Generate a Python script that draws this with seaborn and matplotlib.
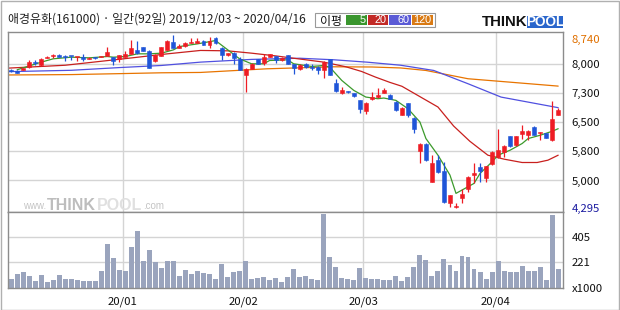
import numpy as np
import pandas as pd
import matplotlib
matplotlib.use("Agg")
import matplotlib.pyplot as plt
from matplotlib.patches import Rectangle
import seaborn as sns

sns.set_theme(style="white")
plt.rcParams['font.family'] = ['Noto Sans CJK KR', 'DejaVu Sans']

# ---------------- data ----------------
opens = [7830, 7820, 7843, 7911, 8030, 7954, 8150, 8195, 8227, 8190,
         8200, 8160, 8184, 8116, 8155, 8180, 8201, 8167, 8133, 8184,
         8253, 8355, 8423, 8321, 8065, 8210, 8355, 8568, 8406, 8457,
         8526, 8543, 8594, 8483, 8662, 8406, 8218, 8270, 8125, 7715,
         7869, 8116, 8014, 8167, 8201, 8082, 8218, 7980, 7869, 7997,
         7900, 7925, 7843, 8116, 7510, 7246, 7275, 7246, 7075, 6776,
         7101, 7143, 7254, 7203, 7015, 6691, 6990, 6606, 5761, 5949,
         4967, 5522, 5240, 4413, 4320, 4541, 4780, 5138, 5351, 5070,
         5411, 5607, 5735, 6137, 5906, 6196, 6179, 6375, 6215, 6213,
         6034, 6690]
highs = [7860, 7830, 7900, 8100, 8085, 8140, 8200, 8250, 8240, 8230,
         8210, 8180, 8236, 8160, 8170, 8200, 8440, 8180, 8230, 8321,
         8620, 8577, 8440, 8340, 8240, 8440, 8610, 8740, 8500, 8560,
         8662, 8662, 8600, 8696, 8680, 8420, 8280, 8290, 8167, 7886,
         8010, 8130, 8236, 8250, 8210, 8160, 8230, 7990, 7990, 8010,
         7997, 7940, 8065, 8125, 7600, 7400, 7290, 7250, 7080, 7010,
         7271, 7380, 7382, 7220, 7030, 6880, 7000, 6620, 5970, 5960,
         5650, 5650, 5480, 4640, 4413, 4770, 5110, 5437, 5462, 5380,
         5750, 6333, 5900, 6150, 6150, 6435, 6290, 6390, 6250, 6220,
         7041, 6870]
lows = [7790, 7760, 7830, 7900, 7960, 7940, 8140, 8150, 8160, 8070,
        8100, 8080, 8080, 8110, 8130, 8170, 8190, 7971, 8039, 8170,
        8240, 8260, 8330, 7880, 8050, 8200, 8340, 8400, 8400, 8440,
        8520, 8530, 8470, 8406, 8510, 8082, 8210, 7997, 7826, 7271,
        7860, 7990, 7971, 8160, 8014, 8070, 7990, 7741, 7826, 7900,
        7850, 7724, 7638, 7700, 7280, 7230, 7250, 7150, 6733, 6716,
        7080, 7130, 7240, 7090, 6780, 6670, 6631, 6230, 5437, 5510,
        4950, 5200, 4420, 4328, 4295, 4413, 4712, 4925, 4967, 4967,
        5400, 5565, 5607, 5870, 5890, 6077, 6051, 6160, 6034, 6090,
        6009, 6680]
closes = [7810, 7770, 7894, 8039, 8020, 8125, 8184, 8205, 8167, 8180,
          8190, 8175, 8116, 8150, 8145, 8190, 8304, 8065, 8218, 8236,
          8398, 8270, 8338, 7894, 8227, 8423, 8594, 8406, 8466, 8526,
          8568, 8577, 8483, 8594, 8526, 8227, 8270, 8150, 7843, 7869,
          7997, 7997, 8184, 8236, 8099, 8150, 7997, 7886, 7971, 7911,
          7890, 7843, 8031, 7715, 7297, 7331, 7265, 7160, 6845, 6998,
          7143, 7203, 7314, 7101, 6802, 6862, 6691, 6316, 5949, 5522,
          5437, 5223, 4438, 4626, 4340, 4660, 5096, 5181, 5240, 5368,
          5735, 5778, 5889, 5889, 6137, 6264, 6281, 6179, 6230, 6102,
          6589, 6800]
volumes = [98, 137, 149, 120, 83, 127, 75, 90, 127, 98,
           98, 88, 83, 83, 83, 156, 355, 252, 164, 156,
           333, 451, 230, 311, 223, 179, 230, 230, 120, 164,
           134, 156, 142, 134, 98, 208, 112, 149, 156, 230,
           98, 105, 112, 90, 105, 75, 112, 171, 112, 120,
           98, 90, 576, 260, 186, 105, 98, 90, 179, 105,
           98, 98, 90, 90, 120, 83, 112, 186, 274, 237,
           120, 156, 245, 201, 156, 267, 260, 171, 149, 98,
           149, 230, 156, 149, 149, 193, 156, 156, 186, 90,
           569, 171]

# moving-average lines, read at sample positions (candle index, price)
ma5_x = [1, 5, 7, 10, 13, 16, 17, 19, 21, 23, 25, 27, 28, 31, 34, 38,
         40, 42, 43, 46, 47, 50, 52, 53, 55, 57, 59, 61, 62, 64, 66, 68,
         69, 71, 73, 74, 75, 77, 78, 80, 81, 83, 85, 86, 88, 90, 91]
ma5_v = [7843, 8039, 8125, 8167, 8150, 8184, 8167, 8184, 8253, 8253,
         8270, 8355, 8440, 8509, 8594, 8125, 7997, 7997, 8082, 8099,
         7997, 7928, 7954, 7911, 7570, 7314, 7143, 7100, 7118, 7058,
         6845, 6503, 6077, 5650, 5138, 4669, 4754, 4925, 5181, 5479,
         5650, 5778, 5949, 6077, 6162, 6264, 6330]
ma20_x = [-0.6, 9, 18.7, 26, 31.5, 36, 40, 44, 48, 52, 55.7, 58.3,
          60.6, 63, 65, 71, 73.6, 76.3, 79.3, 82, 85, 87.5, 89.3, 91]
ma20_v = [7885, 7960, 8125, 8253, 8340, 8330, 8270, 8200, 8120, 8040,
          7920, 7800, 7656, 7520, 7420, 6887, 6400, 6008, 5650, 5548,
          5462, 5462, 5522, 5650]
ma60_x = [-0.6, 10, 18, 25, 31.5, 40, 48, 53.7, 59.3, 64.8, 70.3, 76,
          81.5, 91]
ma60_v = [7795, 7830, 7900, 7954, 8040, 8110, 8140, 8100, 8038, 7960,
          7826, 7485, 7142, 6870]
ma120_x = [-0.6, 10, 17, 25, 31.5, 42.6, 53.7, 60, 64.8, 69, 76, 81.5, 91]
ma120_v = [7710, 7720, 7741, 7766, 7775, 7869, 7920, 7915, 7890, 7826,
           7613, 7544, 7424]

price_grid = [8000, 7250, 6500, 5750, 5000]
price_labels = ["8,000", "7,300", "6,500", "5,800", "5,000"]
max_price, min_price = 8740, 4295
vol_grid = [221, 405]
month_pos = [18.58, 38.58, 58.58, 80.58]
month_labels = ["20/01", "20/02", "20/03", "20/04"]
title = "애경유화(161000) · 일간(92일) 2019/12/03 ~ 2020/04/16"

# ---------------- style ----------------
UP = "#ee1c24"
DOWN = "#1f55d8"
VOLC = "#9aa4bd"
GRID = "#d4d4d4"
FRAME = "#8c8c8c"
C5, C20, C60, C120 = "#3c9a2c", "#c8201e", "#5050e0", "#e87400"

W, H = 620, 310
fig = plt.figure(figsize=(6.2, 3.1), dpi=100)
fig.patch.set_facecolor("white")


def fr(x0, y0, x1, y1):
    return [x0 / W, 1 - y1 / H, (x1 - x0) / W, (y1 - y0) / H]


ax = fig.add_axes(fr(7.5, 32.3, 563.0, 212.3))
axv = fig.add_axes(fr(7.5, 212.3, 563.0, 287.7), sharex=ax)

n = len(closes)
idx = np.arange(n)
df = pd.DataFrame({"i": idx, "o": opens, "h": highs, "l": lows,
                   "c": closes, "v": volumes})

# ---- volume via seaborn
sns.barplot(data=df, x="i", y="v", ax=axv, native_scale=True, color=VOLC,
            saturation=1, width=0.82, edgecolor="none", linewidth=0,
            errorbar=None)

# ---- candles
for _, r in df.iterrows():
    col = UP if r.c >= r.o else DOWN
    ax.vlines(r.i, r.l, r.h, color=col, linewidth=0.9, zorder=3)
    lo, hi = min(r.o, r.c), max(r.o, r.c)
    hgt = max(hi - lo, 28)
    ax.add_patch(Rectangle((r.i - 0.33, lo), 0.66, hgt, facecolor=col,
                           edgecolor=col, linewidth=0.4, zorder=4))

# ---- moving averages via seaborn
for xs, vs, c in [(ma120_x, ma120_v, C120), (ma60_x, ma60_v, C60),
                  (ma20_x, ma20_v, C20), (ma5_x, ma5_v, C5)]:
    sns.lineplot(x=xs, y=vs, ax=ax, color=c, linewidth=0.9, zorder=2,
                 estimator=None, sort=False)

ax.set_ylim(4183, 8806)
ax.set_xlim(-0.6, 91.8)
axv.set_ylim(34, 589)

for a in (ax, axv):
    a.set_facecolor("white")
    a.grid(False)
    for s in a.spines.values():
        s.set_color(FRAME)
        s.set_linewidth(1.0)
    for m in month_pos:
        a.axvline(m, color=GRID, linewidth=1.0, zorder=0)
for g in price_grid:
    ax.axhline(g, color=GRID, linewidth=1.0, zorder=0)
for g in vol_grid:
    axv.axhline(g, color=GRID, linewidth=1.0, zorder=0)

# right labels
ax.yaxis.tick_right()
ax.set_yticks(price_grid + [max_price, min_price])
ax.set_yticklabels(price_labels + [f"{max_price:,}", f"{min_price:,}"])
ax.tick_params(axis="y", length=0, pad=6, labelsize=8.2, colors="#111111")
tl = ax.get_yticklabels()
tl[-2].set_color("#e07000")
tl[-2].set_va("top")
tl[-1].set_color("#1a1aa0")
ax.tick_params(axis="x", length=0, labelbottom=False)
ax.set_xlabel("")
ax.set_ylabel("")

axv.yaxis.tick_right()
axv.set_yticks(vol_grid + [34])
axv.set_yticklabels([str(v) for v in vol_grid] + ["x1000"])
axv.tick_params(axis="y", length=0, pad=6, labelsize=8.2, colors="#111111")
axv.set_xticks(month_pos)
axv.set_xticklabels(month_labels)
axv.tick_params(axis="x", length=0, pad=6, labelsize=8.2, colors="#111111")
axv.set_xlabel("")
axv.set_ylabel("")
axv.set_xlim(-0.6, 91.8)

# ---- header
fig.text(8 / W, 1 - 19.5 / H, title, fontsize=8.6, color="#222222",
         ha="left", va="center")
fig.patches.append(Rectangle((315 / W, 1 - 27.2 / H), 120 / W, 14.2 / H,
                             transform=fig.transFigure, facecolor="white",
                             edgecolor="#999999", linewidth=0.8))
fig.text(320 / W, 1 - 21 / H, "이평", fontsize=8.6, color="#111111",
         ha="left", va="center")
for (x0, x1, c, lab) in [(346, 367, "#3a962e", "5"), (368, 388, "#c22a26", "20"),
                         (389, 411, "#5b5bd6", "60"), (412, 433, "#d97a14", "120")]:
    fig.patches.append(Rectangle((x0 / W, 1 - 25 / H), (x1 - x0) / W, 9.8 / H,
                                 transform=fig.transFigure, facecolor=c,
                                 edgecolor="none"))
    fig.text((x1 - 1.5) / W, 1 - 20.3 / H, lab, fontsize=7.8, color="white",
             ha="right", va="center", family="Liberation Sans")

# logo
fig.text(482 / W, 1 - 22 / H, "THINK", fontsize=10.8, fontweight="bold",
         color="#111111", ha="left", va="center", family="Liberation Sans")
fig.patches.append(Rectangle((527 / W, 1 - 28 / H), 36 / W, 12 / H,
                             transform=fig.transFigure, facecolor="#2a66cc",
                             edgecolor="none"))
fig.text(545 / W, 1 - 22 / H, "POOL", fontsize=9.8, fontweight="bold",
         color="white", ha="center", va="center", family="Liberation Sans")

# watermark
fig.text(23 / W, 1 - 206 / H, "www.", fontsize=7, color="#c4c4c4",
         ha="left", va="center", family="Liberation Sans")
fig.text(47 / W, 1 - 205 / H, "THINK", fontsize=11.5, fontweight="bold",
         color="#bdbdbd", ha="left", va="center", family="Liberation Sans")
fig.text(97 / W, 1 - 205 / H, "POOL", fontsize=11.5, fontweight="bold",
         color="#e0e0e0", ha="left", va="center", family="Liberation Sans")
fig.text(143 / W, 1 - 206 / H, ".com", fontsize=7, color="#c4c4c4",
         ha="left", va="center", family="Liberation Sans")

# outer frame
fig.patches.append(Rectangle((0.5 / W, 0.5 / H), (W - 1.5) / W, (H - 1.5) / H,
                             transform=fig.transFigure, facecolor="none",
                             edgecolor="#b0b0b0", linewidth=1.0))

fig.savefig("out.png", dpi=100, facecolor="white")
